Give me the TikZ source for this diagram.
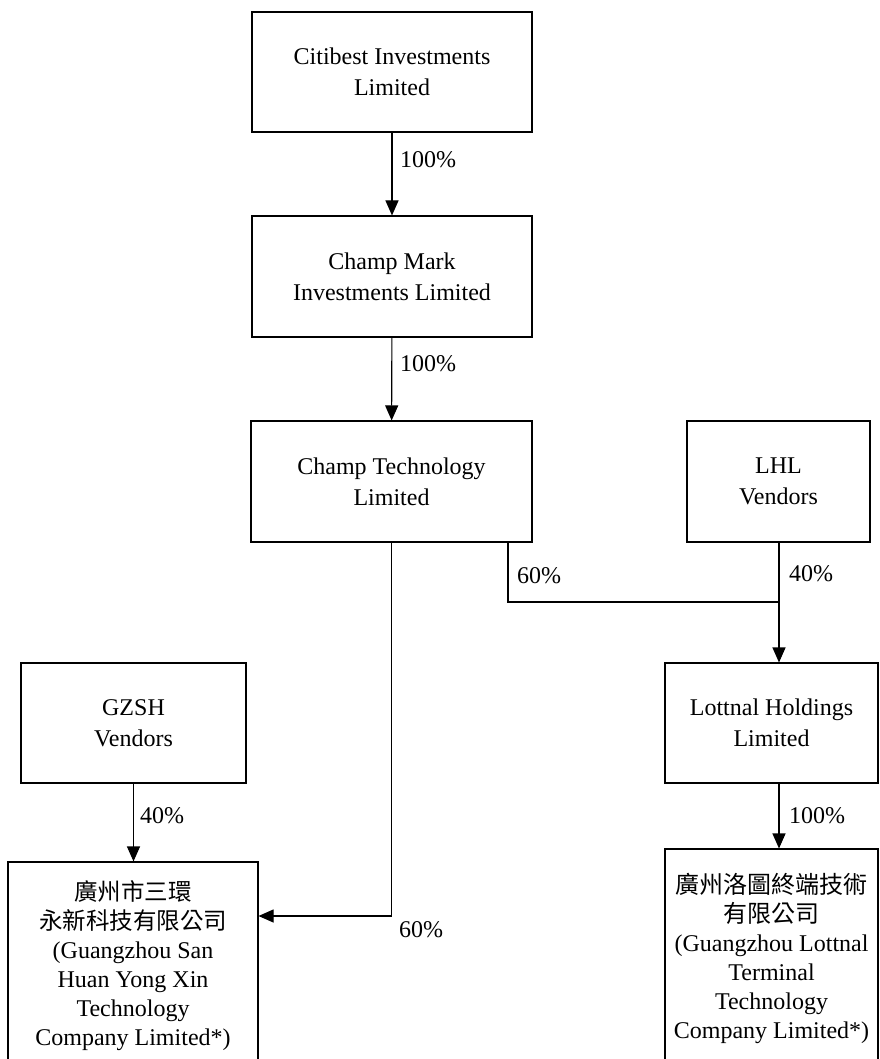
\documentclass[tikz,border=0pt]{standalone}
\usepackage{fontspec}
\setmainfont{Liberation Serif}
\newfontfamily\cjk{Noto Sans CJK TC}
\usetikzlibrary{arrows.meta,calc}
\begin{document}
\begin{tikzpicture}[x=1pt,y=-1pt,
  box/.style={draw,line width=1.1pt,inner sep=0pt,align=center,font=\fontsize{24}{31}\selectfont},
  tallbox/.style={box,font=\fontsize{24}{29}\selectfont},
  cj/.style={},
  conn/.style={line width=1.1pt},
  arr/.style={conn,-{Triangle[width=13pt,length=15pt]}},
  pct/.style={anchor=west,inner sep=0pt,font=\fontsize{24}{28}\selectfont}]
\useasboundingbox (0,0) rectangle (879,1059);
\clip (0,0) rectangle (879,1059);
\node[box,minimum width=280pt,minimum height=120pt] (cit) at (392,72) {Citibest Investments\\Limited};
\node[box,minimum width=280pt,minimum height=121pt] (cmk) at (392,276.5) {Champ Mark\\Investments Limited};
\node[box,minimum width=281pt,minimum height=121pt] (ctl) at (391.5,481.5) {Champ Technology\\Limited};
\node[box,minimum width=183pt,minimum height=121pt] (lhl) at (778.5,481.5) {LHL\\Vendors};
\node[box,minimum width=225pt,minimum height=120pt] (gz) at (133.5,723) {GZSH\\Vendors};
\node[box,minimum width=213pt,minimum height=120pt] (lot) at (771.5,723) {Lottnal Holdings\\Limited};
\node[tallbox,minimum width=250pt,minimum height=207pt] (bl) at (133,965.5) {\cjk\fontsize{23.5}{29}\selectfont 廣州市三環\\\cjk\fontsize{23.5}{29}\selectfont 永新科技有限公司\\(Guangzhou San\\Huan Yong Xin\\Technology\\Company Limited*)};
\node[tallbox,minimum width=213pt,minimum height=218pt] (br) at (771.5,958) {\cjk\fontsize{24}{29}\selectfont 廣州洛圖終端技術\\\cjk\fontsize{24}{29}\selectfont 有限公司\\(Guangzhou Lottnal\\Terminal\\Technology\\Company Limited*)};
\coordinate (j) at (779,602);
\coordinate (c1) at (391.5,916);
\coordinate (c2) at (508,602);
\draw[arr] (cit) -- (cmk);
\draw[arr] (cmk) -- (ctl);
\draw[arr] (ctl.south) -- (c1) -- (bl.east |- c1);
\draw[conn] (ctl.south -| c2) -- (c2) -- (j);
\draw[conn] (lhl.south -| j) -- (j);
\draw[arr] (j) -- (lot.north -| j);
\draw[arr] (gz.south) -- (bl.north -| gz.south);
\draw[arr] (lot.south -| j) -- (br.north -| j);
\node[pct] (p1) at (400,160) {100\%};
\node[pct] (p2) at (400,364) {100\%};
\node[pct] (p3) at (517,576) {60\%};
\node[pct] (p4) at (789,574) {40\%};
\node[pct] (p5) at (140,816) {40\%};
\node[pct] (p6) at (399,930) {60\%};
\node[pct] (p7) at (789,816) {100\%};
\end{tikzpicture}
\end{document}
